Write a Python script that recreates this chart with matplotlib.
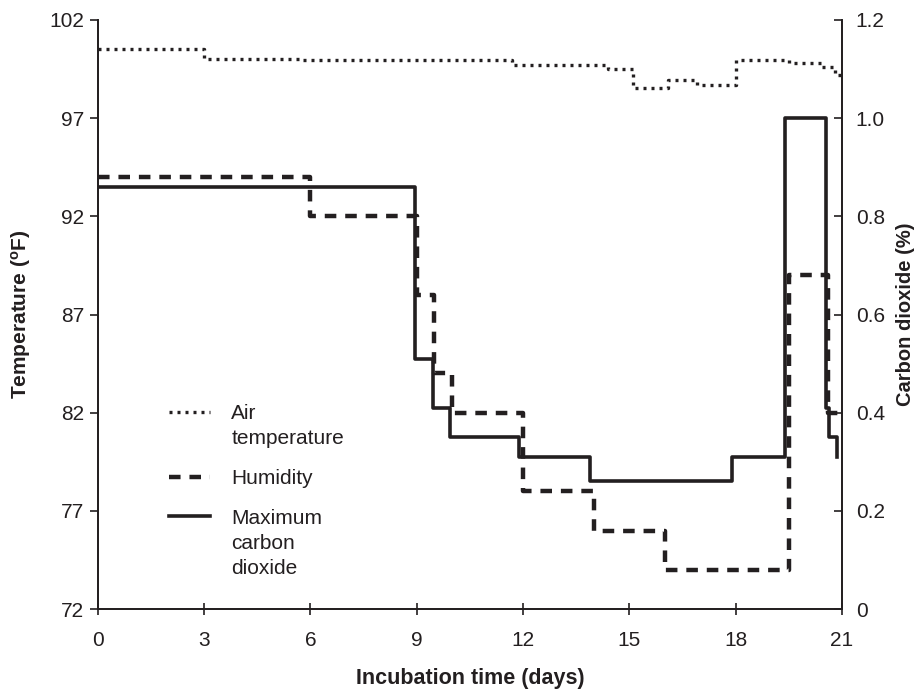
import matplotlib.pyplot as plt
import numpy as np
from matplotlib.legend_handler import HandlerLine2D

plt.rcParams['font.family'] = ['Liberation Sans', 'DejaVu Sans']

# air temperature (F), step starts
air_days = [0, 3, 5.8, 11.7, 14.4, 15.1, 16.1, 16.9, 18.0, 19.5, 20.4, 20.8, 21]
air_temp = [100.5, 100.0, 99.95, 99.7, 99.5, 98.55, 98.95, 98.7, 99.95, 99.8, 99.6, 99.2, 99.0]

# humidity (wet bulb, F)
hum_days = [0, 6, 9, 9.5, 10, 12, 14, 16, 19.5, 20.6, 21]
hum_temp = [94, 92, 88, 84, 82, 78, 76, 74, 89, 82, 82]

# maximum carbon dioxide (%)
co2_days = [0, 8.95, 9.45, 9.95, 11.9, 13.9, 17.9, 19.4, 20.55, 20.63, 20.86]
co2_pct = [0.86, 0.51, 0.41, 0.35, 0.31, 0.26, 0.31, 1.0, 0.41, 0.35, 0.31]

x_ticks = [0, 3, 6, 9, 12, 15, 18, 21]
temp_ticks = [72, 77, 82, 87, 92, 97, 102]
co2_ticks = [0, 0.2, 0.4, 0.6, 0.8, 1.0, 1.2]
co2_labels = ['0', '0.2', '0.4', '0.6', '0.8', '1.0', '1.2']


class TopLine(HandlerLine2D):
    # legend handle sits at the first text line instead of the middle
    def __init__(self, shift, **kw):
        super().__init__(**kw)
        self.shift = shift

    def create_artists(self, legend, orig_handle, xdescent, ydescent, width,
                       height, fontsize, trans):
        return super().create_artists(legend, orig_handle, xdescent,
                                      ydescent - 2 * self.shift, width, height,
                                      fontsize, trans)


fig = plt.figure(figsize=(9.24, 6.89), dpi=100)
ax = fig.add_axes([0.106, 0.116, 0.805, 0.855])
ax2 = ax.twinx()

col = '#231f20'

l_air, = ax.plot(air_days, air_temp, drawstyle='steps-post', color=col, lw=2.4,
                 dashes=(0.9, 1.5), label='Air\ntemperature')
l_hum, = ax.plot(hum_days, hum_temp, drawstyle='steps-post', color=col, lw=3.2,
                 dashes=(2.6, 2.0), label='Humidity')
l_co2, = ax2.plot(co2_days, co2_pct, drawstyle='steps-post', color=col, lw=2.6,
                  label='Maximum\ncarbon\ndioxide')

ax.set_xlim(0, 21)
ax.set_ylim(72, 102)
ax2.set_ylim(0, 1.2)

ax.set_xticks(x_ticks)
ax.set_yticks(temp_ticks)
ax2.set_yticks(co2_ticks)
ax2.set_yticklabels(co2_labels)

for a in (ax, ax2):
    a.spines['top'].set_visible(False)
    for s in ('left', 'right', 'bottom'):
        a.spines[s].set_linewidth(1.3)
        a.spines[s].set_color(col)

ax.tick_params(axis='both', direction='out', length=6, width=1.2, color=col,
               labelsize=15, labelcolor=col, pad=4)
ax.tick_params(axis='x', direction='inout', length=8, pad=12)
ax2.tick_params(axis='y', direction='in', length=6, width=1.2, color=col,
                labelsize=15, labelcolor=col, pad=10)

ax.set_xlabel('Incubation time (days)', fontsize=15.5, fontweight='bold',
              color=col, labelpad=13)
ax.set_ylabel('Temperature ($\\mathregular{^o}$F)', fontsize=15, fontweight='bold',
              color=col, labelpad=12)
ax2.set_ylabel('Carbon dioxide (%)', fontsize=14.5, fontweight='bold', color=col,
               labelpad=8)

leg = ax2.legend(handles=[l_air, l_hum, l_co2], loc='upper left',
                 bbox_to_anchor=(0.07, 0.38), frameon=False, fontsize=15,
                 handlelength=2.0, labelspacing=1.0, handletextpad=1.0,
                 handler_map={l_air: TopLine(10), l_co2: TopLine(19.5)})
for t in leg.get_texts():
    t.set_color(col)
    t.set_linespacing(1.4)

fig.savefig('out.png', dpi=100)
